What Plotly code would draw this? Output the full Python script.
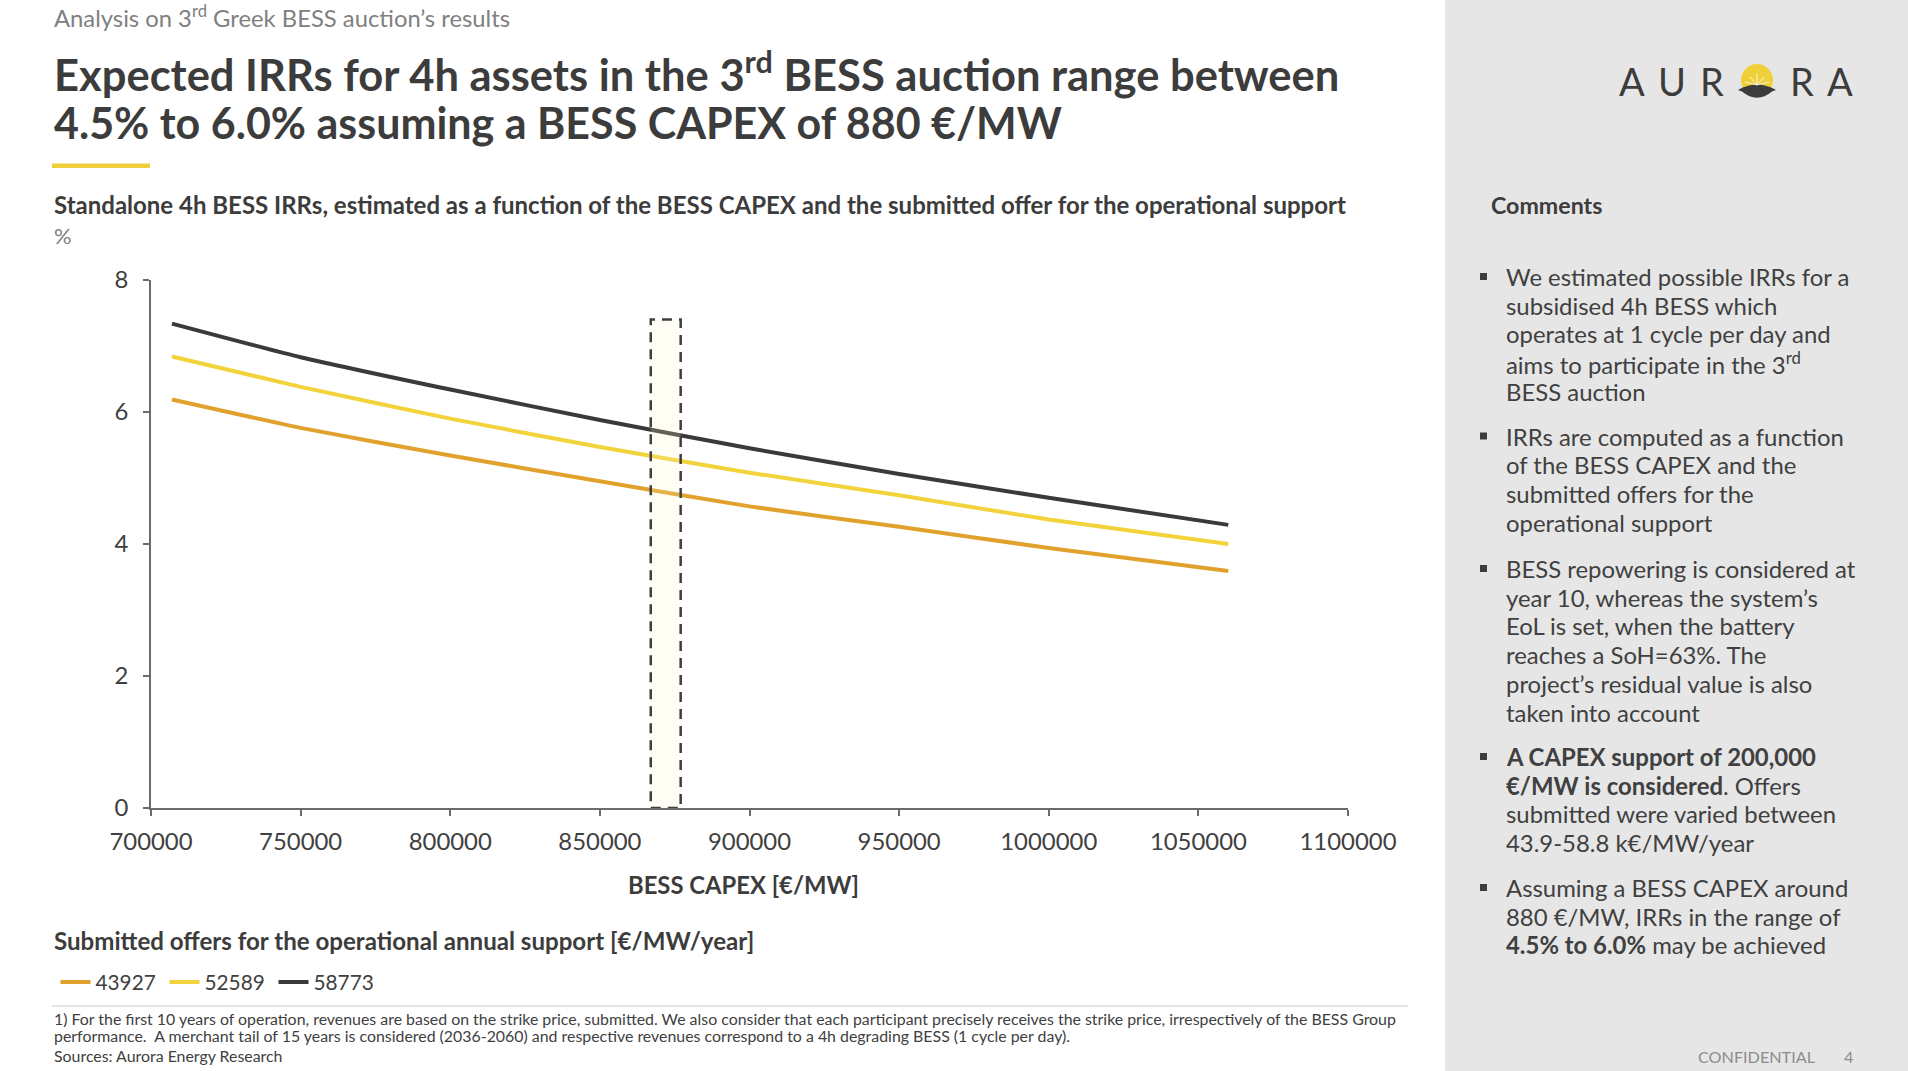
import plotly.graph_objects as go

W, H = 1908, 1071


def X(p):
    return p / W


def Y(p):
    return 1 - p / H


# ---------------- data ----------------
capex = [707000, 750000, 800000, 850000, 900000, 950000, 1000000, 1060000]
irr_43927 = [6.19, 5.76, 5.34, 4.95, 4.57, 4.26, 3.94, 3.59]
irr_52589 = [6.84, 6.38, 5.90, 5.47, 5.08, 4.74, 4.37, 4.00]
irr_58773 = [7.34, 6.83, 6.34, 5.88, 5.45, 5.06, 4.70, 4.29]
offer_names = ["43927", "52589", "58773"]
series = [irr_43927, irr_52589, irr_58773]
colors = ["#E1A22D", "#F2D33B", "#3A3A3A"]
x_ticks = [700000, 750000, 800000, 850000, 900000, 950000, 1000000, 1050000, 1100000]
y_ticks = [0, 2, 4, 6, 8]
band_capex = [867000, 877000]
band_top = 7.4

TXT = "#404040"
DARK = "#3C3C3C"
FONT = "Lato"

fig = go.Figure()
for name, ys, c in zip(offer_names, series, colors):
    fig.add_trace(go.Scatter(
        x=capex, y=ys, name=name, mode="lines",
        line=dict(color=c, width=4, shape="spline", smoothing=0.5),
        hoverinfo="x+y+name",
    ))

shapes = []
# right grey panel
shapes.append(dict(type="rect", xref="paper", yref="paper", x0=X(1445), x1=1, y0=0, y1=1,
                   fillcolor="#E6E6E6", line=dict(width=0), layer="below"))
# yellow underline bar under the title
shapes.append(dict(type="rect", xref="paper", yref="paper", x0=X(52), x1=X(150), y0=Y(168), y1=Y(163.5),
                   fillcolor="#EDD03C", line=dict(width=0)))
# footnote divider
shapes.append(dict(type="line", xref="paper", yref="paper", x0=X(52), x1=X(1408), y0=Y(1006), y1=Y(1006),
                   line=dict(color="#C8C8C8", width=1)))
# dashed CAPEX band
shapes.append(dict(type="rect", xref="x", yref="y", x0=band_capex[0], x1=band_capex[1], y0=0, y1=band_top,
                   fillcolor="rgba(255,245,200,0.2)", line=dict(color="#3F3F3F", width=2.5, dash="10px,7px"),
                   layer="above"))

# bullets squares
bullet_y = [276.5, 436, 568.5, 756.5, 887.5]
for by in bullet_y:
    shapes.append(dict(type="rect", xref="paper", yref="paper", x0=X(1480), x1=X(1487),
                       y0=Y(by + 3.5), y1=Y(by - 3.5), fillcolor=DARK, line=dict(width=0)))


# logo sun
def path(points):
    s = ""
    for cmd, pts in points:
        s += cmd + " ".join(f"{X(px):.5f},{Y(py):.5f}" for px, py in pts) + " "
    return s + "Z"


shapes.append(dict(type="circle", xref="paper", yref="paper", x0=X(1741), x1=X(1773), y0=Y(96), y1=Y(64),
                   fillcolor="#F0D03A", line=dict(width=0)))
shapes.append(dict(type="path", xref="paper", yref="paper",
                   path=path([("M", [(1738, 90)]), ("Q", [(1757, 79), (1776, 90)]),
                              ("L", [(1772, 91.5)]), ("Q", [(1757, 104), (1742, 91.5)])]),
                   fillcolor=DARK, line=dict(width=0)))
for dx, dy in [(-12, -3), (-7, -8), (0, -11), (7, -8), (12, -3)]:
    shapes.append(dict(type="line", xref="paper", yref="paper", x0=X(1757), y0=Y(85), x1=X(1757 + dx), y1=Y(85 + dy),
                       line=dict(color="rgba(255,255,255,0.8)", width=1)))

ann = []


def text(x, y, t, size, color=TXT, anchor="left", bold=False):
    ann.append(dict(xref="paper", yref="paper", x=X(x), y=Y(y), text=(f"<b>{t}</b>" if bold else t),
                    showarrow=False, xanchor=anchor, yanchor="middle", align="left",
                    font=dict(family=FONT, size=size, color=color)))


def lines(x, y0, step, rows, size, color=TXT, bold=False):
    for i, r in enumerate(rows):
        text(x, y0 + i * step, r, size, color=color, bold=bold)


text(52, 16.5, "Analysis on 3<sup>rd</sup> Greek BESS auction’s results", 23.8, color="#808080")
text(52, 72, "Expected IRRs for 4h assets in the 3<sup>rd</sup> BESS auction range between", 43.5, color=DARK, bold=True)
text(52, 122, "4.5% to 6.0% assuming a BESS CAPEX of 880 €/MW", 43, color=DARK, bold=True)
text(52, 205, "Standalone 4h BESS IRRs, estimated as a function of the BESS CAPEX and the submitted offer for the operational support",
     24, color=DARK, bold=True)
text(52, 235, "%", 22, color="#808080")
text(743.5, 884.5, "BESS CAPEX [€/MW]", 23.8, color=DARK, anchor="center", bold=True)
text(52, 940.5, "Submitted offers for the operational annual support [€/MW/year]", 24.1, color=DARK, bold=True)
lines(52, 1018.8, 16.2, [
    "1) For the first 10 years of operation, revenues are based on the strike price, submitted. We also consider that each participant precisely receives the strike price, irrespectively of the BESS Group",
    "performance.  A merchant tail of 15 years is considered (2036-2060) and respective revenues correspond to a 4h degrading BESS (1 cycle per day).",
], 15.9)
text(52, 1055.3, "Sources: Aurora Energy Research", 15.9)
text(1489, 205, "Comments", 23.2, color=DARK, bold=True)

bullets = [
    ["We estimated possible IRRs for a", "subsidised 4h BESS which", "operates at 1 cycle per day and",
     "aims to participate in the 3<sup>rd</sup>", "BESS auction"],
    ["IRRs are computed as a function", "of the BESS CAPEX and the", "submitted offers for the",
     "operational support"],
    ["BESS repowering is considered at", "year 10, whereas the system’s", "EoL is set, when the battery",
     "reaches a SoH=63%. The", "project’s residual value is also", "taken into account"],
    ["<b>A CAPEX support of 200,000</b>", "<b>€/MW is considered</b>. Offers", "submitted were varied between",
     "43.9-58.8 k€/MW/year"],
    ["Assuming a BESS CAPEX around", "880 €/MW, IRRs in the range of", "<b>4.5% to 6.0%</b> may be achieved"],
]
for by, b in zip(bullet_y, bullets):
    lines(1504, by, 28.7, b, 23.9)

text(1818, 1056, "CONFIDENTIAL", 16.2, color="#8C8C8C", anchor="right")
text(1848, 1056, "4", 16.2, color="#8C8C8C", anchor="center")

# logo letters
for lx, ch in [(1632, "A"), (1672, "U"), (1712, "R"), (1802, "R"), (1840, "A")]:
    text(lx, 81, ch, 38, color=DARK, anchor="center")

fig.update_layout(
    width=W, height=H, autosize=False,
    margin=dict(l=0, r=0, t=0, b=0, pad=0, autoexpand=False),
    paper_bgcolor="white", plot_bgcolor="white",
    font=dict(family=FONT, color=TXT),
    shapes=shapes, annotations=ann,
    showlegend=True,
    legend=dict(orientation="h", x=X(55.5), y=Y(982.5), xanchor="left", yanchor="middle",
                font=dict(family=FONT, size=20.8, color=TXT), itemwidth=30,
                entrywidth=64, entrywidthmode="pixels",
                bgcolor="rgba(0,0,0,0)", traceorder="normal"),
    xaxis=dict(domain=[X(151), X(1348)], range=[700000, 1100000], tickvals=x_ticks,
               ticktext=[str(v) for v in x_ticks], showgrid=False, zeroline=False,
               showline=True, linecolor="#6B6B6B", linewidth=1.5, ticks="outside", ticklen=6,
               tickcolor="#6B6B6B", tickwidth=1.5, tickfont=dict(family=FONT, size=23.9, color=TXT),
               ticklabelstandoff=6, automargin=False),
    yaxis=dict(domain=[Y(808), Y(280)], range=[0, 8], tickvals=y_ticks, showgrid=False, zeroline=False,
               showline=True, linecolor="#6B6B6B", linewidth=1.5, ticks="outside", ticklen=6,
               tickcolor="#6B6B6B", tickwidth=1.5, tickfont=dict(family=FONT, size=23.9, color=TXT),
               ticklabelstandoff=10, automargin=False),
)

fig.write_html("out.html")
